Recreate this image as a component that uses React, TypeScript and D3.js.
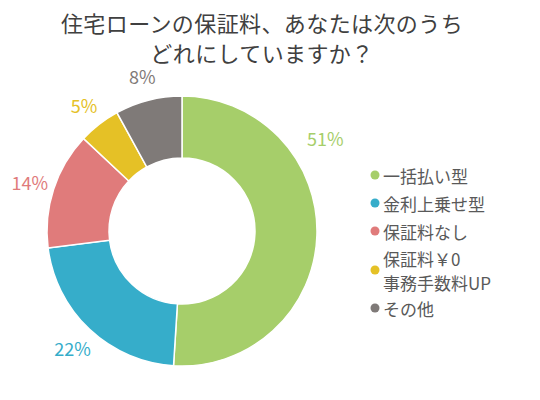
import React from "react";
import * as d3 from "d3";

const categories = ["一括払い型", "金利上乗せ型", "保証料なし", "保証料￥0\n事務手数料UP", "その他"];
const values = [51, 22, 14, 5, 8];
const colors = ["#a6ce6a", "#36adca", "#e07b7b", "#e5c126", "#7f7a78"];
const titleLines = ["住宅ローンの保証料、あなたは次のうち", "どれにしていますか？"];

const W = 540;
const H = 400;
const FONT = "'Noto Sans CJK JP', 'Noto Sans', sans-serif";

export default function App() {
  const cx = 182;
  const cy = 231;
  const outerR = 135;
  const innerR = 73;
  const pie = d3.pie<number>().sort(null).value((d) => d)(values);
  const arc = d3.arc<d3.PieArcDatum<number>>().innerRadius(innerR).outerRadius(outerR);

  const total = d3.sum(values);
  const legendY = [175, 203, 231, 270, 308];

  return (
    <div style={{ position: "absolute", left: 0, top: 0 }}>
      <svg width={W} height={H} style={{ display: "block", background: "#fff" }} fontFamily={FONT}>
        {titleLines.map((t, i) => (
          <text key={i} x={262} y={32 + i * 30} textAnchor="middle" fontSize={22} letterSpacing={0.4} fill="#404040">
            {t}
          </text>
        ))}
        <g transform={`translate(${cx},${cy})`}>
          {pie.map((p, i) => (
            <path key={i} d={arc(p) || ""} fill={colors[i]} stroke="#fff" strokeWidth={1.5} />
          ))}
          {pie.map((p, i) => {
            let a = (p.startAngle + p.endAngle) / 2;
            let r = 160;
            if (i === 0) {
              a = p.startAngle + (p.endAngle - p.startAngle) * 0.31;
              r = 171;
            }
            const x = Math.sin(a) * r;
            const y = -Math.cos(a) * r;
            return (
              <text key={i} x={x} y={y} textAnchor="middle" dominantBaseline="central" fontSize={18} fill={colors[i]}>
                {Math.round((values[i] / total) * 100)}%
              </text>
            );
          })}
        </g>
        {categories.map((c, i) => {
          const lines = c.split("\n");
          const y0 = legendY[i];
          return (
            <g key={i}>
              <circle cx={375} cy={y0} r={4.5} fill={colors[i]} />
              {lines.map((l, j) => (
                <text
                  key={j}
                  x={383}
                  y={y0 + (j - (lines.length - 1) / 2) * 24}
                  dominantBaseline="central"
                  fontSize={17}
                  fill="#595959"
                >
                  {l}
                </text>
              ))}
            </g>
          );
        })}
      </svg>
    </div>
  );
}
